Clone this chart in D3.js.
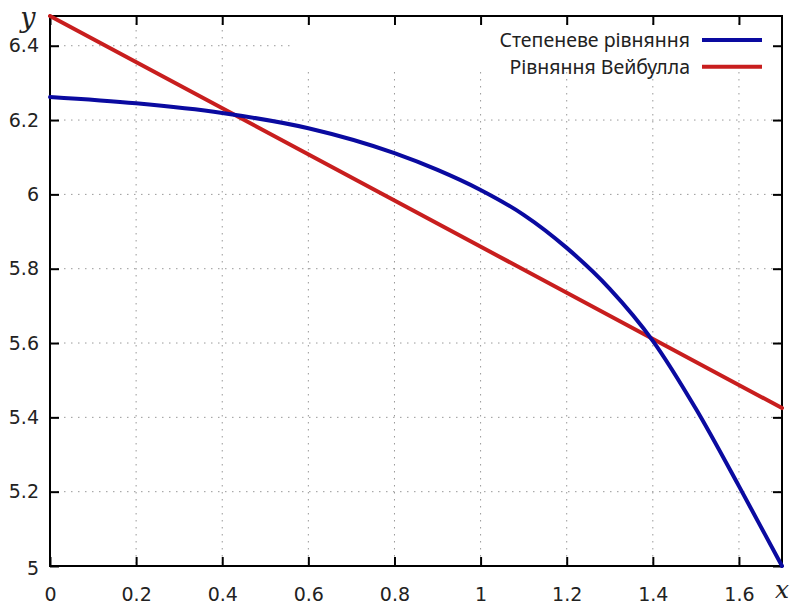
<!DOCTYPE html>
<html>
<head>
<meta charset="utf-8">
<script src="https://cdn.jsdelivr.net/npm/d3@7"></script>
<style>
  html, body { margin: 0; padding: 0; background: #fff; }
  svg { display: block; }
  text { font-family: "Noto Sans", "DejaVu Sans", sans-serif; }
</style>
</head>
<body>
<svg id="chart" width="796" height="605"></svg>
<script>
// ---- Data ----
const seriesNames = ["Степеневе рівняння", "Рівняння Вейбулла"];
const seriesColors = ["#0a0aa0", "#c81e1e"];

// Power-law curve (blue)
const powerX = [0, 0.2, 0.4, 0.6, 0.8, 0.9, 1.0, 1.1, 1.2, 1.3, 1.4, 1.5, 1.6, 1.7];
const powerY = [6.262, 6.245, 6.219, 6.178, 6.111, 6.066, 6.012, 5.945, 5.856, 5.746, 5.606, 5.423, 5.215, 5.0];

// Weibull line (red)
const weibullX = [0, 1.7];
const weibullY = [6.48, 5.425];

const xTicks = [0, 0.2, 0.4, 0.6, 0.8, 1, 1.2, 1.4, 1.6];
const yTicks = [5, 5.2, 5.4, 5.6, 5.8, 6, 6.2, 6.4];
const xDomain = [0, 1.7];
const yDomain = [5, 6.48];

// ---- Layout ----
const margin = { left: 50, top: 16, right: 14, bottom: 39 };
const W = 796, H = 605;
const iw = W - margin.left - margin.right;
const ih = H - margin.top - margin.bottom;

const svg = d3.select("#chart");
const g = svg.append("g").attr("transform", `translate(${margin.left},${margin.top})`);

const x = d3.scaleLinear().domain(xDomain).range([0, iw]);
const y = d3.scaleLinear().domain(yDomain).range([ih, 0]);

// grid lines (dotted)
const grid = g.append("g").attr("class", "grid");
grid.selectAll("line.gx").data(xTicks.filter(d => d > 0)).join("line")
  .attr("x1", d => x(d)).attr("x2", d => x(d))
  .attr("y1", 0).attr("y2", ih)
  .attr("stroke", "#999").attr("stroke-width", 1).attr("stroke-dasharray", "1.5,5.5");
grid.selectAll("line.gy").data(yTicks.filter(d => d > 5)).join("line")
  .attr("x1", 0).attr("x2", iw)
  .attr("y1", d => y(d)).attr("y2", d => y(d))
  .attr("stroke", "#999").attr("stroke-width", 1).attr("stroke-dasharray", "1.5,5.5");

// opaque key box masks grid
g.append("rect")
  .attr("x", 240).attr("y", 9)
  .attr("width", iw - 240).attr("height", 47)
  .attr("fill", "#fff");

// ticks (inward on all sides, mirrored)
const tickLen = 9;
const axB = g.append("g").attr("transform", `translate(0,${ih})`)
  .call(d3.axisBottom(x).tickValues(xTicks).tickSize(-tickLen).tickPadding(17.5).tickFormat(d3.format("")));
const axT = g.append("g")
  .call(d3.axisTop(x).tickValues(xTicks).tickSize(-tickLen).tickFormat(""));
const axL = g.append("g")
  .call(d3.axisLeft(y).tickValues(yTicks).tickSize(-tickLen).tickPadding(11).tickFormat(d3.format("")));
const axR = g.append("g").attr("transform", `translate(${iw},0)`)
  .call(d3.axisRight(y).tickValues(yTicks).tickSize(-tickLen).tickFormat(""));

[axB, axT, axL, axR].forEach(a => {
  a.select(".domain").remove();
  a.selectAll(".tick line").attr("stroke", "#000").attr("stroke-width", 2);
  a.selectAll(".tick text").attr("fill", "#222")
    .style("font-family", "'DejaVu Sans', sans-serif").style("font-size", "19px");
});
axB.selectAll(".tick text").attr("dy", "0.9em");
axL.selectAll(".tick").filter(d => d === 5).select("text").attr("dy", "0.45em");

// frame
g.append("rect").attr("x", 0).attr("y", 0).attr("width", iw).attr("height", ih)
  .attr("fill", "none").attr("stroke", "#000").attr("stroke-width", 2);

// clip
svg.append("defs").append("clipPath").attr("id", "clip")
  .append("rect").attr("x", -2).attr("y", -2).attr("width", iw + 4).attr("height", ih + 4);

const line = d3.line().x(d => x(d[0])).y(d => y(d[1])).curve(d3.curveMonotoneX);

const powerData = powerX.map((v, i) => [v, powerY[i]]);
const weibullData = weibullX.map((v, i) => [v, weibullY[i]]);

const plot = g.append("g").attr("clip-path", "url(#clip)");
plot.append("path").datum(weibullData).attr("d", line)
  .attr("fill", "none").attr("stroke", seriesColors[1]).attr("stroke-width", 4).attr("stroke-linecap", "round");
plot.append("path").datum(powerData).attr("d", line)
  .attr("fill", "none").attr("stroke", seriesColors[0]).attr("stroke-width", 4).attr("stroke-linecap", "round");

// legend
const legend = g.append("g");
const legY = [24, 50.7];
seriesNames.forEach((name, i) => {
  legend.append("text")
    .attr("x", 640).attr("y", legY[i]).attr("dy", "0.35em")
    .attr("text-anchor", "end").attr("fill", "#222")
    .style("font-size", "19.5px").text(name);
  legend.append("line")
    .attr("x1", 652).attr("x2", 712).attr("y1", legY[i]).attr("y2", legY[i])
    .attr("stroke", seriesColors[i]).attr("stroke-width", 4);
});

// axis name labels
svg.append("text").attr("x", 28).attr("y", 27).attr("text-anchor", "middle")
  .style("font-family", "'DejaVu Serif', 'Liberation Serif', serif")
  .style("font-style", "italic").style("font-size", "27px").attr("fill", "#222").text("y");
svg.append("text").attr("x", 782).attr("y", 598).attr("text-anchor", "middle")
  .style("font-family", "'DejaVu Serif', 'Liberation Serif', serif")
  .style("font-style", "italic").style("font-size", "25px").attr("fill", "#222").text("x");
</script>
</body>
</html>
